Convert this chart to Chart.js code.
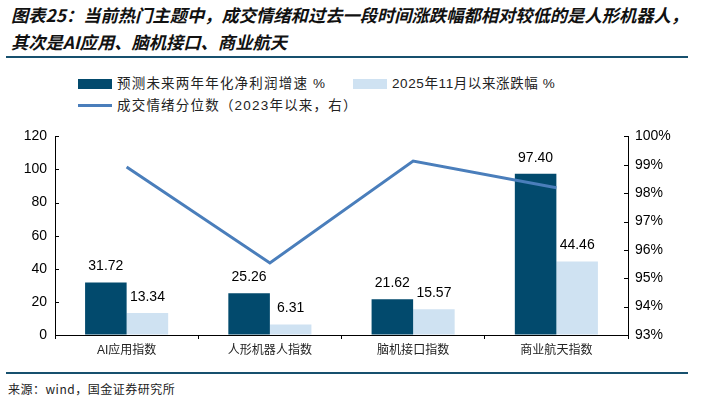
<!DOCTYPE html>
<html>
<head>
<meta charset="utf-8">
<script src="https://cdn.jsdelivr.net/npm/chart.js@4.4.1/dist/chart.umd.min.js"></script>
<style>
  body { margin: 0; background: #fff; width: 706px; height: 403px; overflow: hidden; position: relative; font-family: "Noto Sans CJK SC", sans-serif; }
  .title { position: absolute; left: 11px; top: 1px; font-size: 17.3px; font-weight: bold; font-style: italic; line-height: 27px; color: #111; white-space: nowrap; }
  .rule { position: absolute; left: 6px; width: 682px; height: 2px; background: #17506e; }
  .legend { position: absolute; font-family: "Liberation Sans", "Noto Sans CJK SC", sans-serif; font-size: 13.5px; color: #222; letter-spacing: 1.2px; line-height: 16px; white-space: nowrap; }
  .box { position: absolute; width: 34px; height: 10px; }
  .src { position: absolute; left: 8px; top: 380px; font-size: 12px; color: #222; letter-spacing: 0.5px; }
  #c { position: absolute; left: 0; top: 120px; }
</style>
</head>
<body>
<div class="title">图表25：当前热门主题中，成交情绪和过去一段时间涨跌幅都相对较低的是人形机器人，<br>其次是AI应用、脑机接口、商业航天</div>
<div class="rule" style="top:56px"></div>

<div class="box" style="left:78px;top:79px;background:#024a6d"></div>
<div class="legend" style="left:117px;top:76px">预测未来两年年化净利润增速 %</div>
<div class="box" style="left:353px;top:79px;background:#cfe2f2"></div>
<div class="legend" style="left:392px;top:76px;letter-spacing:0.6px">2025年11月以来涨跌幅 %</div>
<div class="box" style="left:78px;top:104px;height:3px;background:#4a7ebb"></div>
<div class="legend" style="left:117px;top:98px">成交情绪分位数（2023年以来，右）</div>

<canvas id="c" width="706" height="245"></canvas>

<div class="rule" style="top:372px;"></div>
<div class="src">来源：wind，国金证券研究所</div>

<script>
var categories = ['AI应用指数', '人形机器人指数', '脑机接口指数', '商业航天指数'];
var profitGrowth = [31.72, 25.26, 21.62, 97.40];
var priceChange = [13.34, 6.31, 15.57, 44.46];
var sentimentPct = [98.92, 95.54, 99.13, 98.19];

var valueLabels = {
    id: 'valueLabels',
    afterDatasetsDraw: function (chart) {
        var ctx = chart.ctx;
        ctx.save();
        ctx.font = '14px "Liberation Sans", Arial, sans-serif';
        ctx.fillStyle = '#000';
        ctx.textAlign = 'center';
        ctx.textBaseline = 'middle';
        chart.data.datasets.forEach(function (ds, i) {
            if (ds.type === 'line') return;
            chart.getDatasetMeta(i).data.forEach(function (bar, j) {
                ctx.fillText(ds.data[j].toFixed(2), bar.x, bar.y - 16);
            });
        });
        ctx.restore();
    }
};

var innerTicks = {
    id: 'innerTicks',
    afterDraw: function (chart) {
        var ctx = chart.ctx;
        ctx.save();
        ctx.strokeStyle = '#000';
        ctx.lineWidth = 1;
        var y = chart.scales.y, y1 = chart.scales.y1;
        y.ticks.forEach(function (t, i) {
            var p = Math.round(y.getPixelForTick(i)) + 0.5;
            ctx.beginPath(); ctx.moveTo(y.right, p); ctx.lineTo(y.right + 4, p); ctx.stroke();
        });
        y1.ticks.forEach(function (t, i) {
            var p = Math.round(y1.getPixelForTick(i)) + 0.5;
            ctx.beginPath(); ctx.moveTo(y1.left - 4, p); ctx.lineTo(y1.left, p); ctx.stroke();
        });
        ctx.restore();
    }
};

new Chart(document.getElementById('c'), {
    data: {
        labels: categories,
        datasets: [
            { type: 'line', label: '成交情绪分位数（2023年以来，右）', data: sentimentPct, yAxisID: 'y1',
              borderColor: '#4a7ebb', borderWidth: 3, pointRadius: 0, tension: 0, order: 0 },
            { type: 'bar', label: '预测未来两年年化净利润增速 %', data: profitGrowth, yAxisID: 'y',
              backgroundColor: '#024a6d', order: 1, barPercentage: 1, categoryPercentage: 0.58 },
            { type: 'bar', label: '2025年11月以来涨跌幅 %', data: priceChange, yAxisID: 'y',
              backgroundColor: '#cfe2f2', order: 1, barPercentage: 1, categoryPercentage: 0.58 }
        ]
    },
    options: {
        responsive: false,
        animation: false,
        layout: { padding: { top: 14 } },
        plugins: { legend: { display: false }, tooltip: { enabled: false } },
        scales: {
            x: {
                grid: { drawOnChartArea: false, offset: true, tickLength: 4, color: '#000' },
                border: { color: '#000' },
                ticks: { padding: 4, color: '#222', font: { size: 12, family: '"Liberation Sans", "Noto Sans CJK SC"' } },
                afterFit: function (s) { s.height = 30; }
            },
            y: {
                position: 'left', min: 0, max: 120,
                ticks: { stepSize: 20, padding: 8, color: '#000', font: { size: 14, family: '"Liberation Sans", Arial' } },
                grid: { drawOnChartArea: false, drawTicks: false },
                border: { color: '#000' },
                afterFit: function (s) { s.width = 55; }
            },
            y1: {
                position: 'right', min: 93, max: 100,
                ticks: { stepSize: 1, padding: 7, color: '#000', font: { size: 14, family: '"Liberation Sans", Arial' },
                         callback: function (v) { return v + '%'; } },
                grid: { drawOnChartArea: false, drawTicks: false },
                border: { color: '#000' },
                afterFit: function (s) { s.width = 78; }
            }
        }
    },
    plugins: [valueLabels, innerTicks]
});
</script>
</body>
</html>
